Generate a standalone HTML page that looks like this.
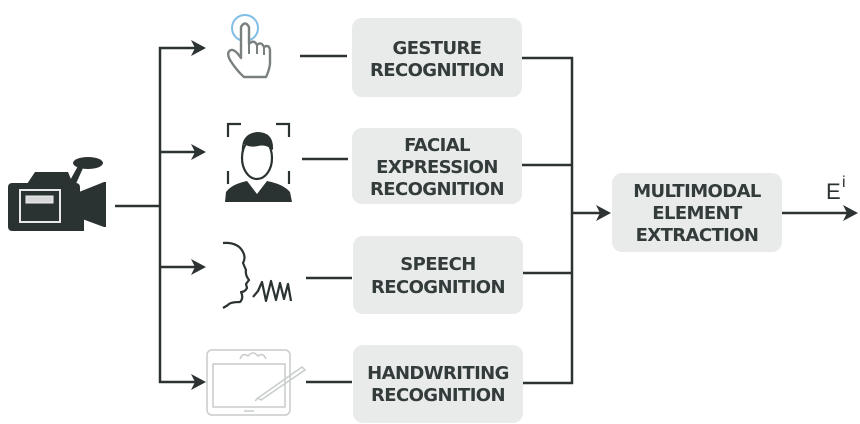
<!DOCTYPE html>
<html>
<head>
<meta charset="utf-8">
<style>
  html,body{margin:0;padding:0;background:#fff;}
  svg{display:block;}
  .lbl{font-family:"DejaVu Sans","Liberation Sans",sans-serif;font-weight:bold;font-size:18px;letter-spacing:-0.6px;fill:#343b3b;text-anchor:middle;}
</style>
</head>
<body>
<svg width="860" height="424" viewBox="0 0 860 424" xmlns="http://www.w3.org/2000/svg">
  <!-- Camera -->
  <g fill="#2b3232">
    <rect x="8" y="183" width="72" height="48" rx="4"/>
    <polygon points="27,184 35,172 68,172 73,184"/>
    <polygon points="68,184 78,166 83,168 75,186"/>
    <ellipse cx="88" cy="163" rx="15" ry="6"/>
    <polygon points="74,194 104,182 106,182 106,227 104,227 74,216"/>
    <rect x="72" y="214" width="12" height="17"/>
  </g>
  <rect x="20" y="190" width="40" height="32" fill="#2b3232" stroke="#e8e8e8" stroke-width="2"/>
  <rect x="26" y="196" width="27" height="7" fill="#d8d8d8" stroke="#eee" stroke-width="1"/>

  <!-- left connectors -->
  <g stroke="#2d3333" stroke-width="2.5" fill="none">
    <line x1="115" y1="206" x2="160" y2="206"/>
    <line x1="160" y1="47" x2="160" y2="383"/>
    <line x1="159" y1="48" x2="196" y2="48"/>
    <line x1="159" y1="152" x2="196" y2="152"/>
    <line x1="159" y1="267" x2="196" y2="267"/>
    <line x1="159" y1="382" x2="196" y2="382"/>
    <!-- icon to box -->
    <line x1="300" y1="56" x2="347" y2="56"/>
    <line x1="302" y1="159" x2="348" y2="159"/>
    <line x1="306" y1="278" x2="352" y2="278"/>
    <line x1="306" y1="382" x2="352" y2="382"/>
    <!-- right connectors -->
    <line x1="522" y1="58" x2="573" y2="58"/>
    <line x1="522" y1="165" x2="573" y2="165"/>
    <line x1="523" y1="273" x2="573" y2="273"/>
    <line x1="523" y1="383" x2="573" y2="383"/>
    <line x1="572" y1="57" x2="572" y2="384"/>
    <line x1="572" y1="213" x2="600" y2="213"/>
    <line x1="782" y1="213" x2="848" y2="213"/>
  </g>
  <!-- arrowheads -->
  <g fill="#2d3333">
    <polygon points="206,48 191,40 195,48 191,56"/>
    <polygon points="206,152 191,144 195,152 191,160"/>
    <polygon points="206,267 191,259 195,267 191,275"/>
    <polygon points="206,382 191,374 195,382 191,390"/>
    <polygon points="611,213 596,205 600,213 596,221"/>
    <polygon points="858,213 843,205 847,213 843,221"/>
  </g>

  <!-- Gesture icon -->
  <circle cx="245" cy="28" r="13" fill="none" stroke="#7fbde6" stroke-width="2"/>
  <path d="M241,58 L241,27 Q245,20 249,27 L249,44 Q254,39 257,45 Q261,41 264,47 Q269,44 270,50 L270,64 Q269,71 266,77 L244,77 Q237,71 230,60 Q226,52 231,50 Q235,49 241,58 Z" fill="#fff" stroke="#7a8080" stroke-width="2.4" stroke-linejoin="round"/>
  <path d="M249,44 L249,54 M257,45 L257,54 M264,47 L264,55" stroke="#7a8080" stroke-width="2" fill="none"/>

  <!-- Facial icon -->
  <g stroke="#2b3232" stroke-width="2.2" fill="none">
    <path d="M228,137 V124 H241"/>
    <path d="M276,124 H289 V137"/>
    <path d="M228,171 V184"/>
    <path d="M289,171 V184"/>
  </g>
  <ellipse cx="257" cy="158" rx="15" ry="21" fill="#fff" stroke="#2b3232" stroke-width="2.2"/>
  <path d="M242,154 Q240,134 257,132 Q274,132 273,150 Q266,144 258,146 Q250,148 244,144 Z" fill="#2b3232"/>
  <path d="M225,202 L226,192 Q232,184 247,181 L257,194 L267,181 Q283,184 290,192 L292,202 Z" fill="#2b3232"/>

  <!-- Speech icon -->
  <path d="M223,243 Q238,242 243,252 Q246,258 243,263 L246,270 Q245,275 249,280 L246,284 L247,288 Q245,292 241,292 Q244,298 240,302 Q230,302 228,305 L223,308" fill="none" stroke="#2b3232" stroke-width="2.2" stroke-linejoin="round"/>
  <polyline points="253,297 258,291 262,282 266,301 271,281 276,300 280,283 284,299 288,284 291,301" fill="none" stroke="#2b3232" stroke-width="2.2" stroke-linejoin="round"/>

  <!-- Handwriting tablet -->
  <g stroke="#c8cccc" stroke-width="1.5" fill="none">
    <rect x="207" y="350" width="83" height="65" rx="5"/>
    <rect x="213" y="364" width="72" height="43"/>
    <path d="M240,359 Q243,352 248,356 Q253,350 258,356 Q263,352 266,359"/>
    <line x1="244" y1="411" x2="254" y2="411"/>
    <path d="M258,398 L302,367 L305,370 L261,400 Z"/>
    <line x1="255" y1="401" x2="258" y2="398"/>
  </g>

  <!-- Boxes -->
  <g fill="#e8ebea">
    <rect x="352" y="18" width="170" height="79" rx="10"/>
    <rect x="352" y="128" width="170" height="76" rx="10"/>
    <rect x="353" y="236" width="170" height="78" rx="10"/>
    <rect x="353" y="345" width="170" height="78" rx="10"/>
    <rect x="612" y="173" width="170" height="79" rx="10"/>
  </g>
  <text class="lbl" x="437" y="54">GESTURE</text>
  <text class="lbl" x="437" y="76">RECOGNITION</text>

  <text class="lbl" x="437" y="151">FACIAL</text>
  <text class="lbl" x="437" y="173">EXPRESSION</text>
  <text class="lbl" x="437" y="195">RECOGNITION</text>

  <text class="lbl" x="438" y="270">SPEECH</text>
  <text class="lbl" x="438" y="293">RECOGNITION</text>

  <text class="lbl" x="438" y="379">HANDWRITING</text>
  <text class="lbl" x="438" y="401">RECOGNITION</text>

  <text class="lbl" x="697" y="197">MULTIMODAL</text>
  <text class="lbl" x="697" y="219">ELEMENT</text>
  <text class="lbl" x="697" y="241">EXTRACTION</text>

  <text x="826" y="199" font-family="Liberation Sans, sans-serif" font-size="22" fill="#2d3333">E</text>
  <text x="842" y="187" font-family="Liberation Sans, sans-serif" font-size="16" fill="#2d3333">i</text>
</svg>
</body>
</html>
